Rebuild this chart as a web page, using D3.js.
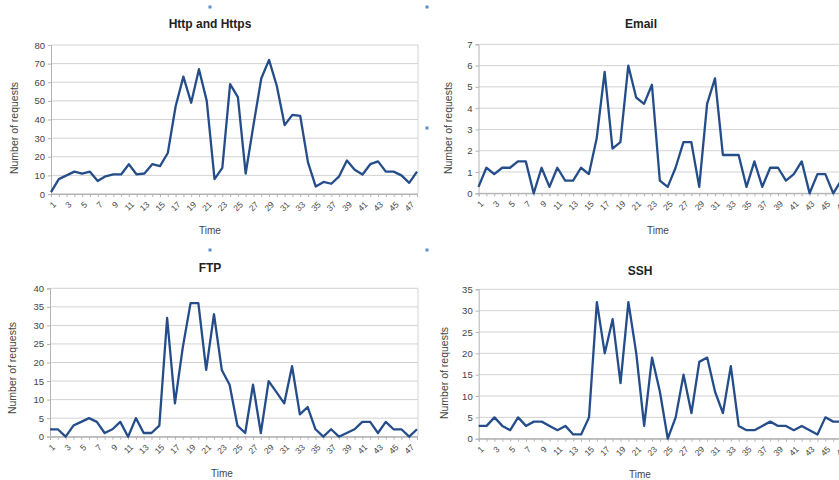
<!DOCTYPE html>
<html><head><meta charset="utf-8">
<script src="https://cdn.jsdelivr.net/npm/d3@7"></script>
<style>body{margin:0;background:#fff}svg{display:block}</style>
</head><body><svg id="c" width="839" height="480"></svg>
<script>
const categories = [1,2,3,4,5,6,7,8,9,10,11,12,13,14,15,16,17,18,19,20,21,22,23,24,25,26,27,28,29,30,31,32,33,34,35,36,37,38,39,40,41,42,43,44,45,46,47,48];
const httpValues = [1,8,10,12,11,12,7,9.5,10.5,10.5,16,10.5,11,16,15,22,47,63,49,67,50,8,14,59,52,11,37,62,72,58,37,42.5,42,17,4,6.5,5.5,9.5,18,13,10.5,16,17.5,12,12,10,6,12];
const emailValues = [0.3,1.2,0.9,1.2,1.2,1.5,1.5,0,1.2,0.3,1.2,0.6,0.6,1.2,0.9,2.6,5.7,2.1,2.4,6.0,4.5,4.2,5.1,0.6,0.3,1.2,2.4,2.4,0.3,4.2,5.4,1.8,1.8,1.8,0.3,1.5,0.3,1.2,1.2,0.6,0.9,1.5,0,0.9,0.9,0,0.6,0.9];
const ftpValues = [2,2,0,3,4,5,4,1,2,4,0,5,1,1,3,32,9,24,36,36,18,33,18,14,3,1,14,1,15,12,9,19,6,8,2,0,2,0,1,2,4,4,1,4,2,2,0,2];
const sshValues = [3,3,5,3,2,5,3,4,4,3,2,3,1,1,5,32,20,28,13,32,20,3,19,11,0,5,15,6,18,19,11,6,17,3,2,2,3,4,3,3,2,3,2,1,5,4,4,4];
const titles = ["Http and Https","Email","FTP","SSH"];
const yMax = [80,7,40,35];
const yStep = [10,1,5,5];
const yTitle = "Number of requests";
const xTitle = "Time";

const panels = [
  {x0:51, x1:417, right:418, top:45, bottom:194, tx:210, ty:28, yl:18, ylc:128, xlx:210, xly:234, data:httpValues},
  {x0:478.5, x1:849, right:860, top:44.3, bottom:193.3, tx:641, ty:28, yl:452, ylc:128, xlx:658, xly:234, data:emailValues},
  {x0:50, x1:417, right:418, top:288.3, bottom:436.7, tx:210, ty:272, yl:16, ylc:368, xlx:222, xly:477, data:ftpValues},
  {x0:478.7, x1:849, right:860, top:289.3, bottom:438.7, tx:640, ty:275, yl:448, ylc:373, xlx:640, xly:478, data:sshValues}
];

const svg = d3.select("#c");
const font = "'Liberation Sans', Arial, sans-serif";

panels.forEach((p,i)=>{
  const g = svg.append("g");
  const x = d3.scaleLinear().domain([1,48]).range([p.x0,p.x1]);
  const y = d3.scaleLinear().domain([0,yMax[i]]).range([p.bottom,p.top]);
  const yt = d3.range(0, yMax[i]+yStep[i]/2, yStep[i]);
  g.append("g").selectAll("line").data(yt).join("line")
    .attr("x1",p.x0).attr("x2",p.right).attr("y1",d=>y(d)).attr("y2",d=>y(d))
    .attr("stroke",d=>d===0?"#b3b3b3":"#d3d3d3").attr("stroke-width",1);
  if(p.right<839) g.append("line").attr("x1",p.right).attr("x2",p.right).attr("y1",p.top).attr("y2",p.bottom).attr("stroke","#d3d3d3");
  const ya = d3.axisLeft(y).tickValues(yt).tickSize(3).tickPadding(3).tickFormat(d3.format("d"));
  const yg = g.append("g").attr("transform",`translate(${p.x0},0)`).call(ya);
  yg.select(".domain").attr("stroke","#b3b3b3");
  yg.selectAll(".tick line").attr("stroke","#b3b3b3");
  yg.selectAll("text").attr("font-family",font).attr("font-size",9.5).attr("fill","#444");
  const xa = d3.axisBottom(x).tickValues(categories).tickSize(3).tickPadding(4)
    .tickFormat(d=> d%2===1 ? String(d) : "");
  const xg = g.append("g").attr("transform",`translate(0,${p.bottom})`).call(xa);
  xg.select(".domain").attr("stroke","#b3b3b3");
  xg.selectAll(".tick line").attr("stroke","#b3b3b3");
  xg.selectAll("text").attr("font-family",font).attr("font-size",8.5).attr("fill","#444")
    .attr("text-anchor","end").attr("x",0).attr("y",0).attr("dy","0.35em")
    .attr("transform","translate(3,9) rotate(-45)");
  g.append("path").datum(p.data)
    .attr("fill","none").attr("stroke","#244d8a").attr("stroke-width",2.3).attr("stroke-linejoin","round")
    .attr("d", d3.line().x((d,j)=>x(categories[j])).y(d=>y(d)));
  g.append("text").attr("x",p.tx).attr("y",p.ty).attr("text-anchor","middle")
    .attr("font-family",font).attr("font-weight","bold").attr("font-size",12).attr("fill","#222").text(titles[i]);
  g.append("text").attr("transform",`translate(${p.yl},${p.ylc}) rotate(-90)`).attr("text-anchor","middle")
    .attr("font-family",font).attr("font-size",10.5).attr("fill","#444").text(yTitle);
  g.append("text").attr("x",p.xlx).attr("y",p.xly).attr("text-anchor","middle")
    .attr("font-family",font).attr("font-size",10).attr("fill","#444").text(xTitle);
});
[[210,7],[427,7],[427,128],[210,250],[427,250]].forEach(([hx,hy])=>{
  svg.append("rect").attr("x",hx-1.5).attr("y",hy-1.5).attr("width",3).attr("height",3).attr("fill","#5b8fc7");
});
</script></body></html>
